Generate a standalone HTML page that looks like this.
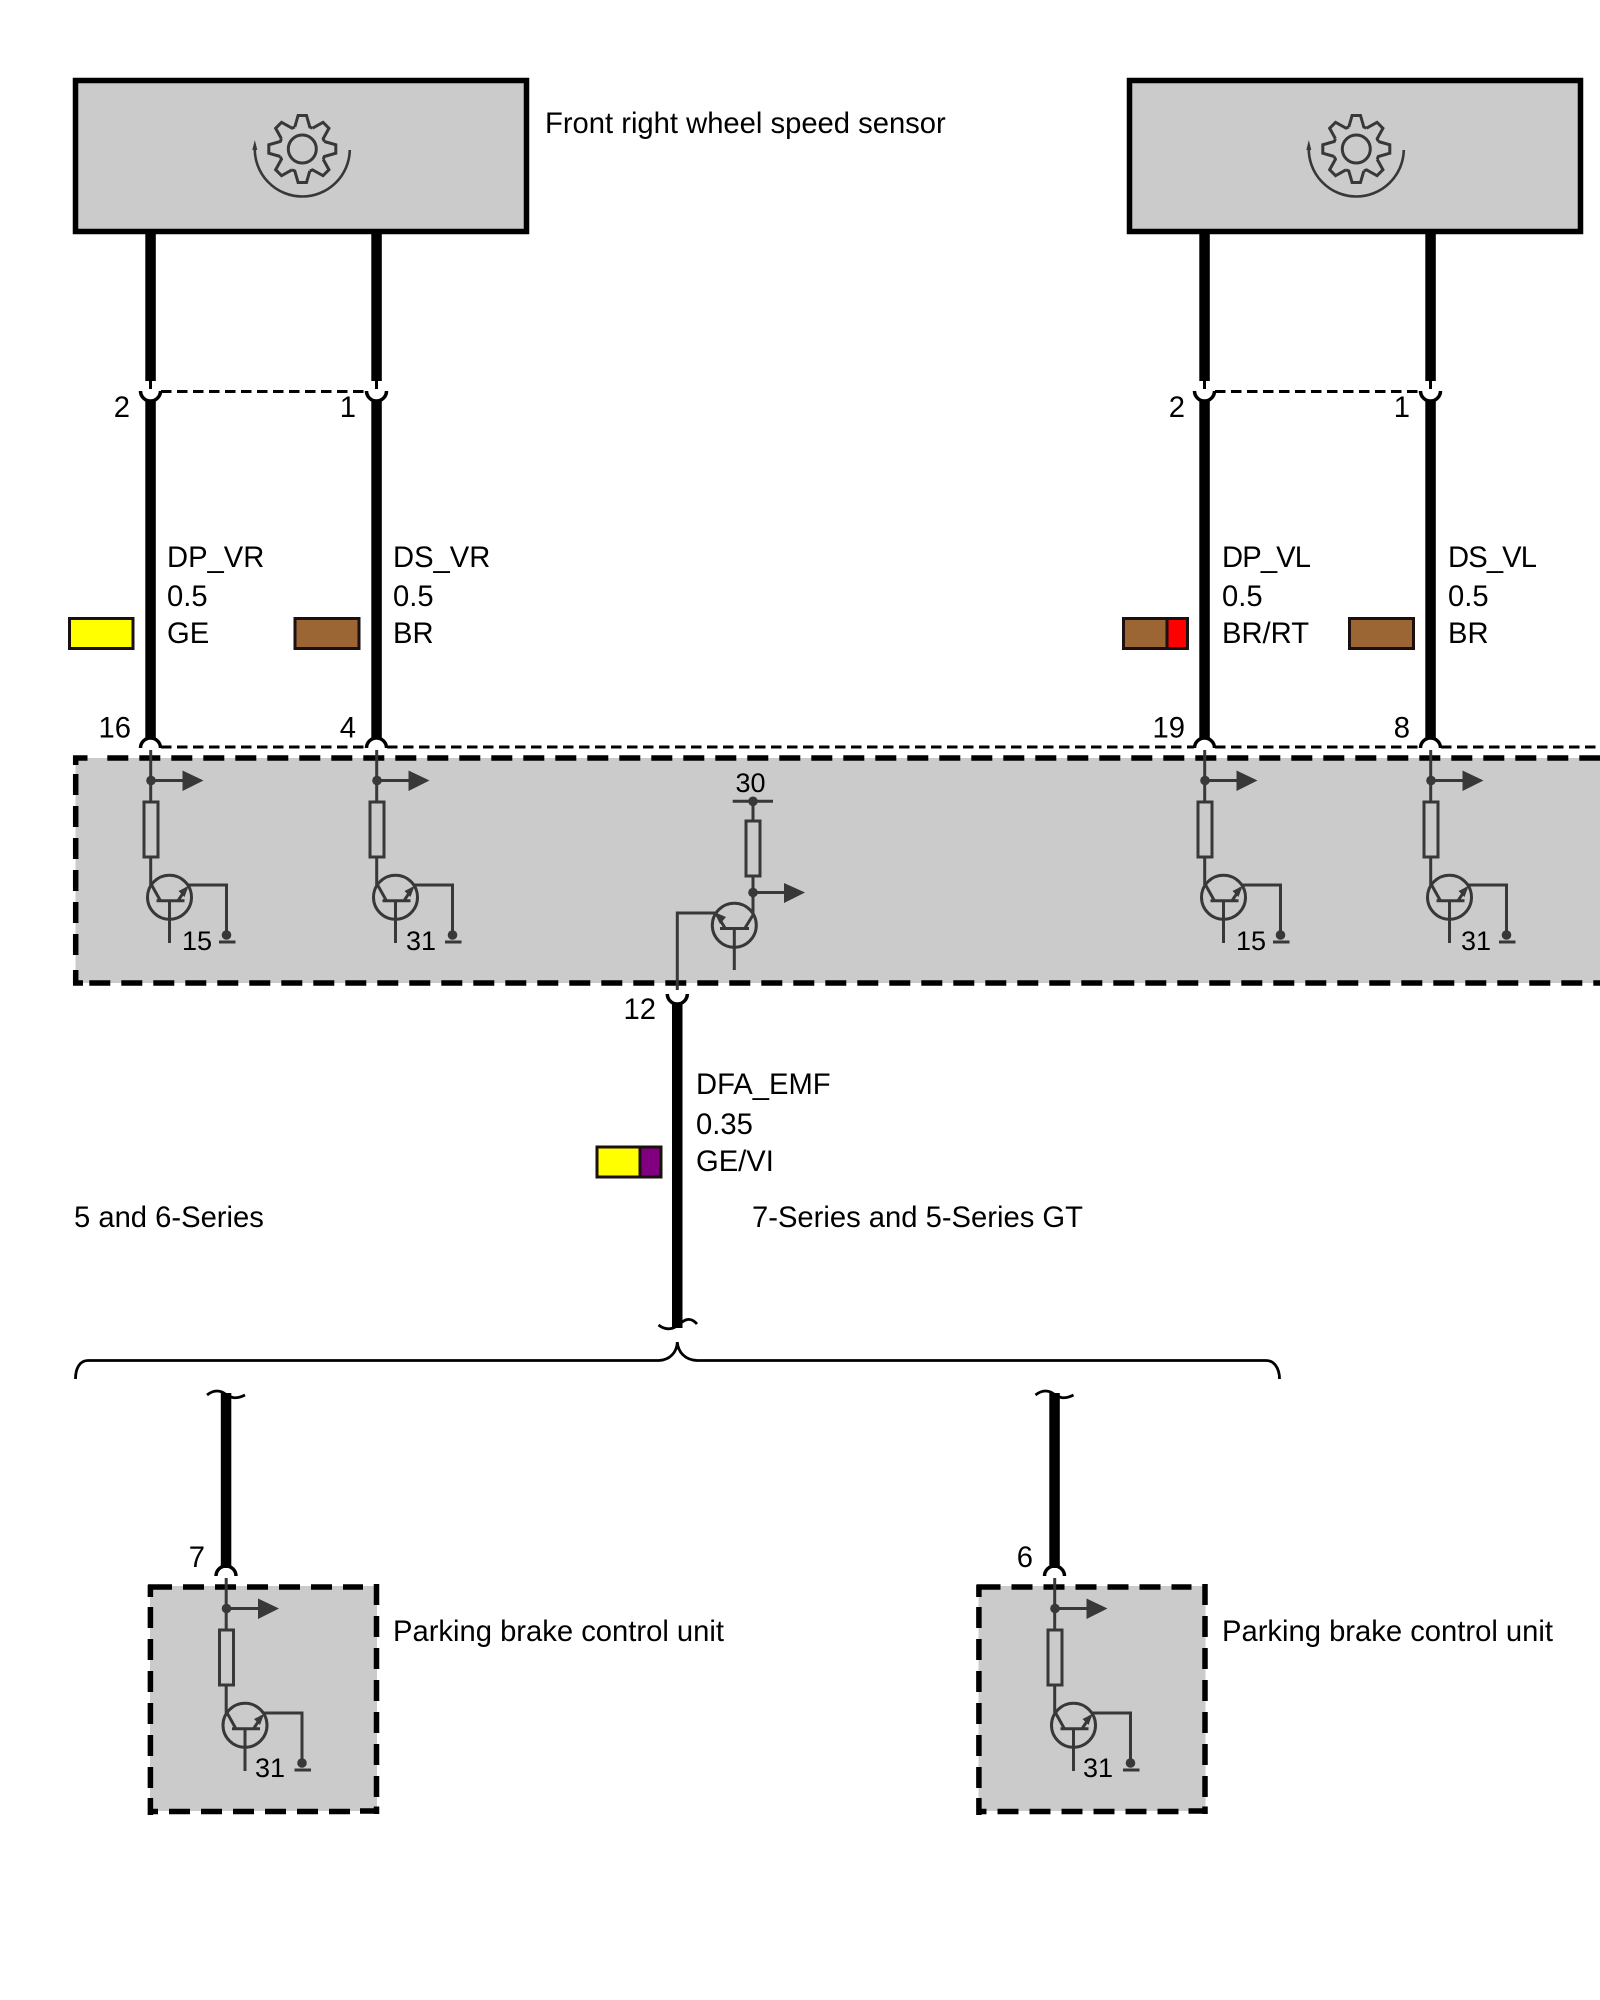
<!DOCTYPE html>
<html>
<head>
<meta charset="utf-8">
<style>
html,body{margin:0;padding:0;background:#fff}
svg{display:block}
text{font-family:"Liberation Sans",sans-serif;font-size:29.2px;fill:#000}
.s{font-size:27px}
.d{stroke:#383838;stroke-width:3;fill:none}
.f{fill:#383838;stroke:none}
.b{stroke:#000;stroke-width:5.5;stroke-dasharray:21 11;fill:none}
.k{stroke:#000;stroke-width:5.5;fill:none}
.t{stroke:#000;stroke-width:3;stroke-dasharray:10.5 5.5;fill:none}
.a{stroke:#000;stroke-width:3.5;fill:none}
.c{stroke:#000;stroke-width:2.8;fill:none}
</style>
</head>
<body>
<svg xmlns="http://www.w3.org/2000/svg" xmlns:xlink="http://www.w3.org/1999/xlink" width="1600" height="2000" viewBox="0 0 1600 2000">
<defs>
  <polyline id="tooth" points="-7.5,-22 -4.2,-33.5 4.2,-33.5 7.5,-22 10.25,-20.9" fill="none" stroke="#383838" stroke-width="3"/>
  <g id="tr">
    <path class="d" d="M.2 750V885"/>
    <circle class="f" cx=".5" cy="780.5" r="4.8"/>
    <path class="d" d="M.5 780.5H33"/>
    <polygon class="f" points="32,770.5 53,780.5 32,791"/>
    <rect class="d" x="-6.5" y="802" width="14" height="55" style="fill:#cbcbcb"/>
    <circle class="d" cx="19" cy="897.3" r="22"/>
    <path class="d" d="M6 900.7H34M19 900.7V943M0 883L9.5 900M28 900L36 888M38 885H76V935"/>
    <polygon class="f" points="38,886 28,891 34,897"/>
    <circle class="f" cx="76" cy="935" r="4.8"/>
    <path class="d" d="M68.5 942H85"/>
  </g>
  <g id="sensor">
    <rect x="75.5" y="80.5" width="451" height="151" fill="#cbcbcb" stroke="#000" stroke-width="5.5"/>
    <g transform="translate(302.3 149)">
      <use xlink:href="#tooth" href="#tooth"/>
      <use xlink:href="#tooth" href="#tooth" transform="rotate(45)"/>
      <use xlink:href="#tooth" href="#tooth" transform="rotate(90)"/>
      <use xlink:href="#tooth" href="#tooth" transform="rotate(135)"/>
      <use xlink:href="#tooth" href="#tooth" transform="rotate(180)"/>
      <use xlink:href="#tooth" href="#tooth" transform="rotate(225)"/>
      <use xlink:href="#tooth" href="#tooth" transform="rotate(270)"/>
      <use xlink:href="#tooth" href="#tooth" transform="rotate(315)"/>
      <circle r="14" fill="none" stroke="#383838" stroke-width="3"/>
      <path d="M47.5 1A47.5 47.5 0 0 1 0 47.5A47.5 47.5 0 0 1 -47.5 -2" fill="none" stroke="#383838" stroke-width="2.6"/>
      <polygon points="-47.5,-9 -50,1 -45,1" fill="#383838"/>
    </g>
    <rect x="145.3" y="234" width="10.5" height="147"/>
    <rect x="371.3" y="234" width="10.5" height="147"/>
    <path class="t" d="M161 391.5H366"/>
    <path class="d" style="stroke:#000" d="M150.5 381V389M376.5 381V389"/>
    <path class="a" d="M140.5 391A10 10 0 0 0 160.5 391M366.5 391A10 10 0 0 0 386.5 391"/>
    <rect x="145.3" y="400" width="10.5" height="338"/>
    <rect x="371.3" y="400" width="10.5" height="338"/>
    <path class="a" d="M140.5 748A10 10 0 0 1 160.5 748M366.5 748A10 10 0 0 1 386.5 748"/>
  </g>
  <g id="lowbox">
    <rect x="150" y="1586" width="227" height="225" fill="#cbcbcb"/>
    <path class="k" d="M150.4 1815V1798M148 1811.5H158M148 1587H172M150.4 1585V1597M360 1811H379M376.5 1806.5V1814"/>
    <path class="b" d="M183 1587H363"/>
    <path class="b" d="M169 1811.5H350"/>
    <path class="b" d="M150.4 1607V1790"/>
    <path class="b" d="M376.5 1584V1797"/>
    <rect x="220.8" y="1393" width="10.5" height="175"/>
    <path class="c" d="M207 1395C212 1391 217 1390 222 1392C229 1396 233 1401 245 1395"/>
    <path class="a" d="M216 1576A10 10 0 0 1 236 1576"/>
    <use xlink:href="#tr" href="#tr" transform="translate(226 828)"/>
  </g>
</defs>

<rect width="1600" height="2000" fill="#fff"/>

<!-- control unit main box -->
<rect x="75.5" y="758" width="1526" height="225" fill="#cbcbcb"/>
<path class="b" d="M107.3 758H1600"/>
<path class="b" d="M89.3 983H1600"/>
<path class="b" d="M75.7 774V965"/>
<path class="k" d="M73 758H87.5M75.7 756V765M73 983H83M75.7 970V985"/>

<!-- sensors -->
<use xlink:href="#sensor" href="#sensor"/>
<use xlink:href="#sensor" href="#sensor" transform="translate(1054 0)"/>

<!-- long dashed line above module -->
<path class="t" d="M161 747H366"/>
<path class="t" d="M387 747H1194"/>
<path class="t" d="M1215 747H1420"/>
<path class="t" d="M1441 747H1600"/>

<!-- transistor groups -->
<use xlink:href="#tr" href="#tr" transform="translate(150.5 0)"/>
<use xlink:href="#tr" href="#tr" transform="translate(376.5 0)"/>
<use xlink:href="#tr" href="#tr" transform="translate(1204.5 0)"/>
<use xlink:href="#tr" href="#tr" transform="translate(1430.5 0)"/>

<!-- centre transistor -->
<path class="d" d="M732.7 801.3H773M753 801V821M753 876V915M753 892.5H785M753 915L745 928M720 928.5H749M734.3 928.5V970M725 928L717 915M716 913H677.3V990"/>
<circle class="f" cx="753" cy="801.3" r="4.8"/>
<rect class="d" x="746" y="821" width="14" height="55"/>
<circle class="f" cx="753" cy="892.5" r="4.8"/>
<polygon class="f" points="784,883 805,892.5 784,903"/>
<circle class="d" cx="734.3" cy="925.3" r="22"/>
<polygon class="f" points="714,912 726,917 720,924"/>

<!-- centre wire -->
<path class="a" d="M667.3 994A10 10 0 0 0 687.3 994"/>
<rect x="672" y="1003" width="10.5" height="325"/>
<path class="c" d="M658.5 1325C665 1330 671 1330 677 1326C683 1321 689 1315 697 1324"/>
<path class="c" d="M677.3 1342C677 1352 670 1360 659 1360.5H88C80 1360.5 75.5 1368 75.5 1379M677.3 1342C678 1352 685 1360 697 1360.5H1266C1274 1360.5 1279.5 1368 1279.5 1379"/>

<!-- lower boxes -->
<use xlink:href="#lowbox" href="#lowbox"/>
<use xlink:href="#lowbox" href="#lowbox" transform="translate(828.5 0)"/>

<!-- swatches -->
<g stroke="#1a1010" stroke-width="3">
  <rect x="69.5" y="618.5" width="63.5" height="30" fill="#ffff00"/>
  <rect x="295" y="618.5" width="64" height="30" fill="#9b6633"/>
  <rect x="1123.5" y="618.5" width="64" height="30" fill="#9b6633"/>
  <rect x="1167" y="618.5" width="20.5" height="30" fill="#ff0000"/>
  <rect x="1349.5" y="618.5" width="64" height="30" fill="#9b6633"/>
  <rect x="597" y="1147" width="64" height="30" fill="#ffff00"/>
  <rect x="640" y="1147" width="21" height="30" fill="#800080"/>
</g>

<!-- labels -->
<text x="545" y="133">Front right wheel speed sensor</text>

<text x="167" y="567">DP_VR</text><text x="167" y="606">0.5</text><text x="167" y="643">GE</text>
<text x="393" y="567">DS_VR</text><text x="393" y="606">0.5</text><text x="393" y="643">BR</text>
<text x="1222" y="567" textLength="89">DP_VL</text><text x="1222" y="606">0.5</text><text x="1222" y="643">BR/RT</text>
<text x="1448" y="567" textLength="89">DS_VL</text><text x="1448" y="606">0.5</text><text x="1448" y="643">BR</text>

<text x="130" y="417" text-anchor="end">2</text>
<text x="356" y="417" text-anchor="end">1</text>
<text x="1185" y="417" text-anchor="end">2</text>
<text x="1410" y="417" text-anchor="end">1</text>

<text x="131" y="737.5" text-anchor="end">16</text>
<text x="356" y="737.5" text-anchor="end">4</text>
<text x="1185" y="737.5" text-anchor="end">19</text>
<text x="1410" y="737.5" text-anchor="end">8</text>

<text class="s" x="182" y="950">15</text>
<text class="s" x="406" y="950">31</text>
<text class="s" x="1236" y="950">15</text>
<text class="s" x="1461" y="950">31</text>
<text class="s" x="750.5" y="792" text-anchor="middle">30</text>

<text x="656" y="1019" text-anchor="end">12</text>
<text x="696" y="1094">DFA_EMF</text>
<text x="696" y="1134">0.35</text>
<text x="696" y="1171">GE/VI</text>

<text x="74" y="1227">5 and 6-Series</text>
<text x="752" y="1227">7-Series and 5-Series GT</text>

<text x="205" y="1567" text-anchor="end">7</text>
<text x="1033" y="1567" text-anchor="end">6</text>
<text class="s" x="255" y="1777">31</text>
<text class="s" x="1083" y="1777">31</text>
<text x="393" y="1641">Parking brake control unit</text>
<text x="1222" y="1641">Parking brake control unit</text>
</svg>
</body>
</html>
